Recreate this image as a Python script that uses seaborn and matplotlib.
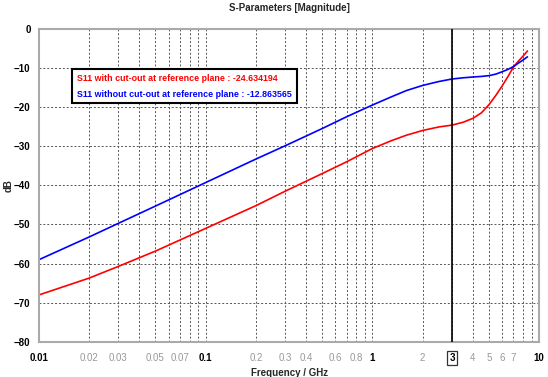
import numpy as np
import pandas as pd
import seaborn as sns
import matplotlib.pyplot as plt
from matplotlib.lines import Line2D

# frequency in GHz and S11 magnitude in dB
freq = [0.01, 0.02, 0.03, 0.05, 0.1, 0.2, 0.3, 0.5, 0.7, 1, 1.3, 1.6, 2,
        2.5, 3, 3.5, 4, 4.5, 5, 5.5, 6, 6.5, 7, 7.5, 8, 8.5]
s11_cut = [-68.0, -63.7, -60.7, -56.8, -51.0, -45.2, -41.5, -37.0, -34.0,
           -30.6, -28.6, -27.2, -26.0, -25.1, -24.63, -23.9, -22.9, -21.5,
           -19.4, -17.0, -14.6, -12.2, -9.8, -8.3, -7.0, -5.7]
s11_nocut = [-59.0, -53.2, -49.7, -45.3, -39.3, -33.3, -29.9, -25.5, -22.5,
             -19.5, -17.4, -15.8, -14.5, -13.5, -12.86, -12.55, -12.35, -12.2,
             -12.0, -11.6, -11.0, -10.4, -9.7, -8.8, -8.0, -7.2]
series_names = ["S11 with cut-out at reference plane : -24.634194",
                "S11 without cut-out at reference plane : -12.863565"]
marker_freq = 3

xtick_vals = [0.01, 0.02, 0.03, 0.04, 0.05, 0.06, 0.07, 0.08, 0.09,
              0.1, 0.2, 0.3, 0.4, 0.5, 0.6, 0.7, 0.8, 0.9,
              1, 2, 3, 4, 5, 6, 7, 8, 9, 10]
xtick_text = ["0.01", "0.02", "0.03", "", "0.05", "", "0.07", "", "",
              "0.1", "0.2", "0.3", "0.4", "", "0.6", "", "0.8", "",
              "1", "2", "3", "4", "5", "6", "7", "", "", "10"]
decades = ["0.01", "0.1", "1", "10"]

df = pd.DataFrame({
    "freq": freq * 2,
    "dB": s11_cut + s11_nocut,
    "series": [series_names[0]] * len(freq) + [series_names[1]] * len(freq),
})

sns.set_theme(style="white")
plt.rcParams["font.family"] = ["Liberation Sans", "DejaVu Sans"]

fig, ax = plt.subplots(figsize=(5.48, 3.77), dpi=100)
fig.subplots_adjust(left=0.071, right=0.984, top=0.924, bottom=0.093)

sns.lineplot(data=df, x="freq", y="dB", hue="series",
             palette=["#ff0000", "#0000ff"], linewidth=1.2, ax=ax, legend=False)
ax.axvline(marker_freq, color="black", linewidth=1.2, zorder=3)

ax.set_xscale("log")
ax.set_xlim(0.01, 10)
ax.set_ylim(-80, 0)
ax.set_xticks(xtick_vals)
ax.set_xticklabels(xtick_text)
ax.minorticks_off()
ax.set_yticks(range(-80, 1, 10))

for lbl in ax.get_xticklabels():
    t = lbl.get_text()
    if t in decades:
        lbl.set_color("black")
        lbl.set_fontweight("bold")
    elif t == "3":
        lbl.set_color("black")
        lbl.set_fontweight("bold")
        lbl.set_bbox(dict(facecolor="white", edgecolor="#333333",
                          linewidth=0.9, boxstyle="square,pad=0.25"))
    else:
        lbl.set_color("#999999")
    lbl.set_fontsize(7)
for lbl in ax.get_yticklabels():
    lbl.set_fontweight("bold")
    lbl.set_fontsize(7)
    lbl.set_color("black")

ax.grid(True, which="major", linestyle=(0, (2, 2)), color="#555555", linewidth=0.7)
ax.tick_params(axis="both", which="major", length=3, width=1, color="#aaaaaa",
               direction="out", pad=3)
ax.tick_params(axis="x", pad=5)
for s in ax.spines.values():
    s.set_color("#aaaaaa")
    s.set_linewidth(1.5)

ax.set_title("S-Parameters [Magnitude]", fontsize=7, fontweight="bold", pad=13)
ax.set_xlabel("Frequency / GHz", fontsize=7, fontweight="bold")
ax.set_ylabel("dB", fontsize=7, fontweight="bold")
ax.xaxis.set_label_coords(0.5, -0.083)
ax.yaxis.set_label_coords(-0.05, 0.5)

handles = [Line2D([], [], color="none") for _ in series_names]
leg = ax.legend(handles, series_names, loc="upper left",
                bbox_to_anchor=(0.058, 0.884), handlelength=0, handletextpad=0,
                labelcolor=["#ff0000", "#0000ff"], fancybox=False, framealpha=1,
                edgecolor="black", borderpad=0.55, labelspacing=0.7,
                prop={"size": 6.4, "weight": "bold"})
leg.get_frame().set_linewidth(1.5)

plt.savefig("out.png", dpi=100)
plt.close()
